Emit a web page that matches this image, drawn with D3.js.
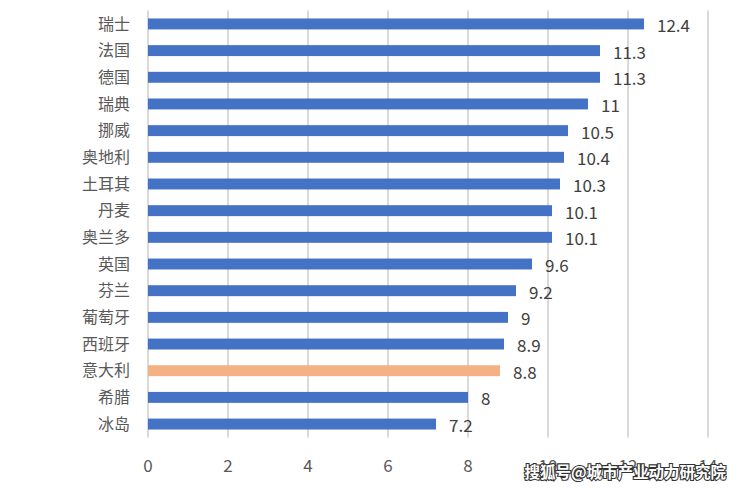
<!DOCTYPE html>
<html><head><meta charset="utf-8">
<script src="https://cdn.jsdelivr.net/npm/d3@7"></script>
<style>body{margin:0;background:#fff}svg{display:block}text{font-family:"Noto Sans CJK SC","Noto Sans",sans-serif}</style>
</head><body><div id="c"></div>
<script>
const categories = ["瑞士","法国","德国","瑞典","挪威","奥地利","土耳其","丹麦","奥兰多","英国","芬兰","葡萄牙","西班牙","意大利","希腊","冰岛"];
const values = [12.4,11.3,11.3,11,10.5,10.4,10.3,10.1,10.1,9.6,9.2,9,8.9,8.8,8,7.2];
const highlight = ["意大利"];
const ticks = [0,2,4,6,8,10,12,14];

const W=741,H=490;
const svg=d3.select("#c").append("svg").attr("width",W).attr("height",H);
const x=d3.scaleLinear().domain([0,14]).range([148,708]);
const y=d3.scaleBand().domain(categories).range([10.6,437.4]).paddingInner(0.59).paddingOuter(0.295);

svg.append("g").selectAll("line").data(ticks).join("line")
  .attr("x1",d=>x(d)).attr("x2",d=>x(d)).attr("y1",10.6).attr("y2",437.4)
  .attr("stroke","#d9d9d9").attr("stroke-width",2);

svg.append("g").selectAll("rect").data(categories).join("rect")
  .attr("x",x(0)).attr("y",d=>y(d)).attr("height",y.bandwidth())
  .attr("width",(d,i)=>x(values[i])-x(0))
  .attr("fill",d=>highlight.includes(d)?"#F4B183":"#4472C4");

svg.append("g").selectAll("text").data(categories).join("text")
  .attr("x",130).attr("y",d=>y(d)+y.bandwidth()/2).attr("dy","0.35em")
  .attr("text-anchor","end").attr("font-size",16).attr("fill","#595959").text(d=>d);

svg.append("g").selectAll("text").data(categories).join("text")
  .attr("x",(d,i)=>x(values[i])+13).attr("y",d=>y(d)+y.bandwidth()/2+2).attr("dy","0.35em")
  .attr("font-size",17).attr("fill","#404040").text((d,i)=>values[i]);

svg.append("g").selectAll("text").data(ticks).join("text")
  .attr("x",d=>x(d)).attr("y",466).attr("dy","0.35em").attr("text-anchor","middle")
  .attr("font-size",17).attr("fill","#595959").text(d=>d);

svg.append("text").attr("x",726).attr("y",473).attr("dy","0.35em").attr("text-anchor","end")
  .attr("font-size",15.5).attr("font-weight","bold").attr("fill","#fff")
  .attr("stroke","#333").attr("stroke-width",2.2).attr("paint-order","stroke")
  .text("搜狐号@城市产业动力研究院");
</script></body></html>
